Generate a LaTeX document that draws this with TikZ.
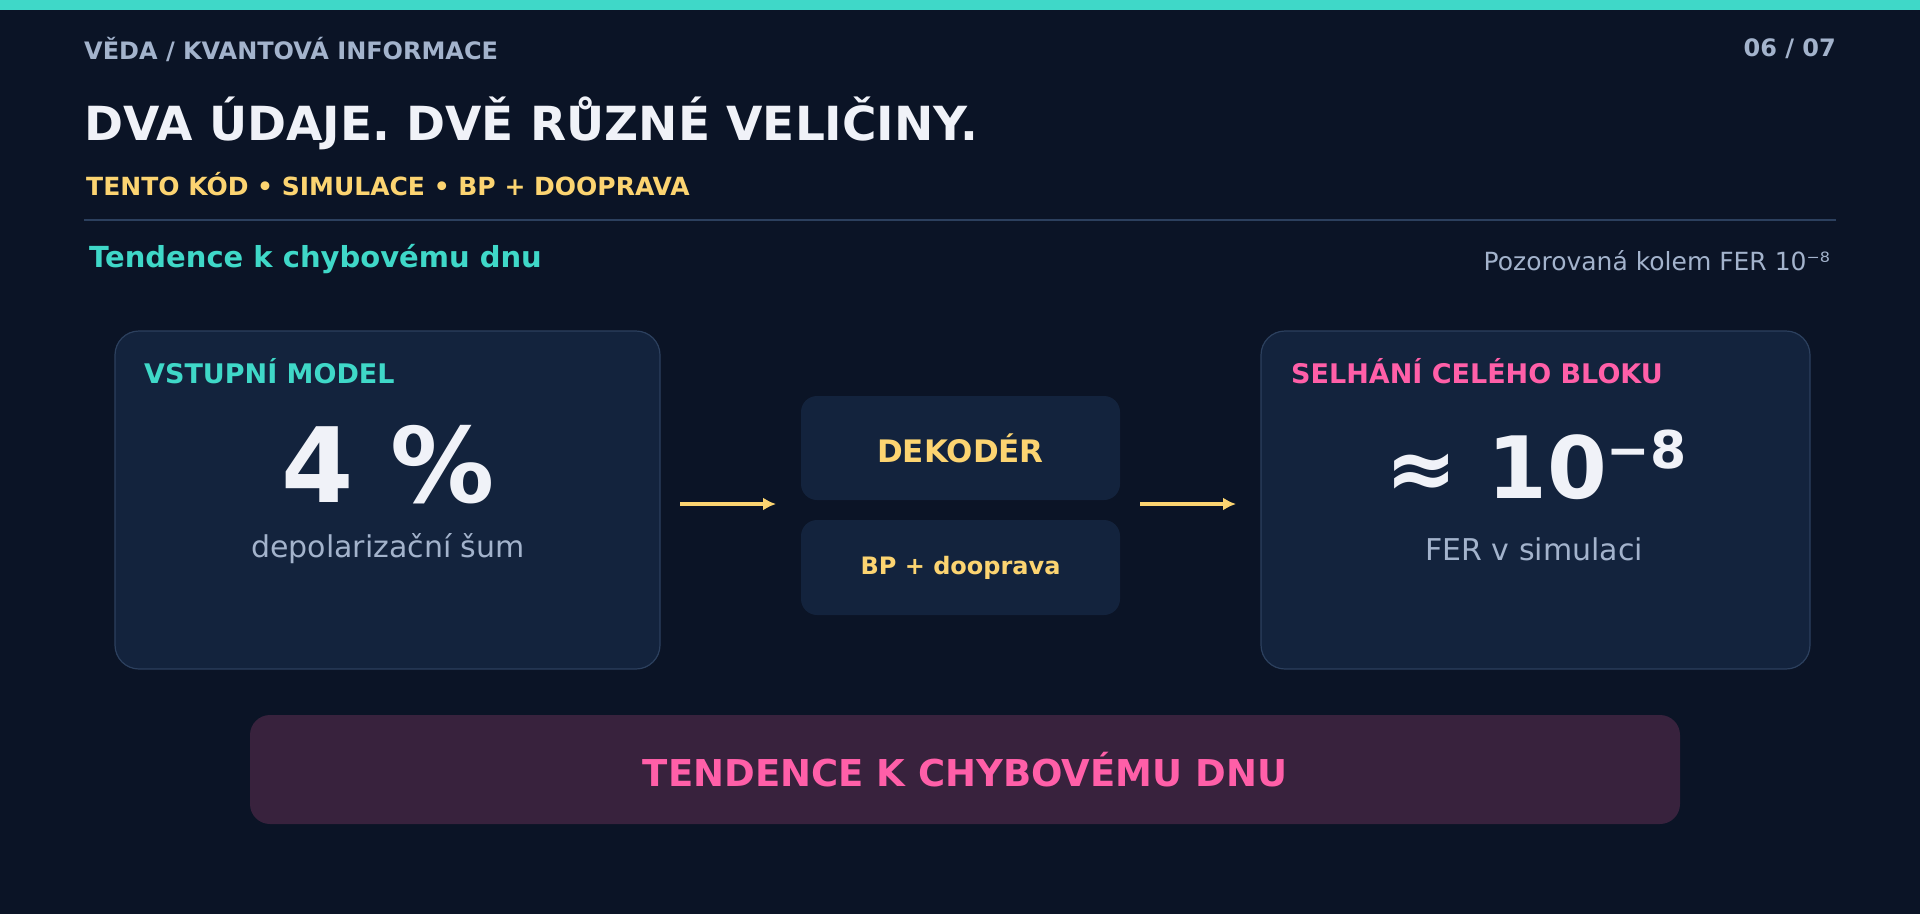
\documentclass[tikz,border=0pt]{standalone}
\usepackage{fontspec}
\setmainfont{DejaVu Sans}
\usetikzlibrary{arrows.meta}
\definecolor{bg}{HTML}{0B1426}
\definecolor{card}{HTML}{13233D}
\definecolor{cardb}{HTML}{2C405E}
\definecolor{teal}{HTML}{3FD8C8}
\definecolor{gold}{HTML}{FCD471}
\definecolor{pink}{HTML}{FF5FA8}
\definecolor{grayb}{HTML}{A3B3CC}
\definecolor{wht}{HTML}{F0F2F8}
\definecolor{purp}{HTML}{38223D}
\newcommand{\fs}[1]{\fontsize{#1}{#1}\selectfont}
\begin{document}
\begin{tikzpicture}[x=1pt,y=-1pt,
  card/.style={draw=cardb,line width=1.2pt,fill=card,rounded corners=24pt},
  dbox/.style={fill=card,rounded corners=16pt},
  arr/.style={gold,line width=4pt,-{Latex[length=13pt,width=13pt]}},
  lbl/.style={inner sep=0pt,anchor=west}]
\fill[bg] (0,0) rectangle (1920,914);
\useasboundingbox (0,0) rectangle (1920,914);
\fill[teal] (0,0) rectangle (1920,10);
\node[lbl,text=grayb,font=\bfseries\fs{24}] (hdr) at (84,49) {VĚDA / KVANTOVÁ INFORMACE};
\node[inner sep=0pt,anchor=east,text=grayb,font=\bfseries\fs{24}] (pg) at (1836,49) {06 / 07};
\node[lbl,text=wht,font=\bfseries\fs{47}] (title) at (84,123) {DVA ÚDAJE. DVĚ RŮZNÉ VELIČINY.};
\node[lbl,text=gold,font=\bfseries\fs{25}] (sub) at (86,184) {TENTO KÓD • SIMULACE • BP + DOOPRAVA};
\draw[cardb,line width=1.2pt] (84,220) -- (1836,220);
\node[lbl,text=teal,font=\bfseries\fs{29}] (tend) at (89,259) {Tendence k chybovému dnu};
\node[inner sep=0pt,anchor=east,text=grayb,font=\fs{25}] (poz) at (1830,261) {Pozorovaná kolem FER 10⁻⁸};
\draw[card] (115,331) rectangle (660,669);
\node[lbl,text=teal,font=\bfseries\fs{27}] (vm) at (144,371) {VSTUPNÍ MODEL};
\node[text=wht,font=\bfseries\fs{104}] (four) at (388,465) {4 \%};
\node[text=grayb,font=\fs{30}] (dep) at (388,549) {depolarizační šum};
\node[dbox,minimum width=319pt,minimum height=104pt] (dek) at (960.5,448) {};
\node[text=gold,font=\bfseries\fs{31}] at (dek) {DEKODÉR};
\node[dbox,minimum width=319pt,minimum height=95pt] (bp) at (960.5,567.5) {};
\node[text=gold,font=\bfseries\fs{24}] at (bp) {BP + dooprava};
\draw[card] (1261,331) rectangle (1810,669);
\node[lbl,text=pink,font=\bfseries\fs{27}] (sel) at (1291,371) {SELHÁNÍ CELÉHO BLOKU};
\node[text=wht,font=\bfseries\fs{86}] (val) at (1536,465) {≈ 10\raisebox{30pt}{\fs{52}−8}};
\node[text=grayb,font=\fs{30}] (fer) at (1534,549) {FER v simulaci};
\coordinate (a1s) at (680,504); \coordinate (a1e) at (776,504);
\coordinate (a2s) at (1140,504); \coordinate (a2e) at (1236,504);
\draw[arr] (a1s) -- (a1e);
\draw[arr] (a2s) -- (a2e);
\node[fill=purp,rounded corners=20pt,minimum width=1430pt,minimum height=109pt] (bot) at (965,769.5) {};
\node[text=pink,font=\bfseries\fs{37}] at (bot) {TENDENCE K CHYBOVÉMU DNU};
\end{tikzpicture}
\end{document}
